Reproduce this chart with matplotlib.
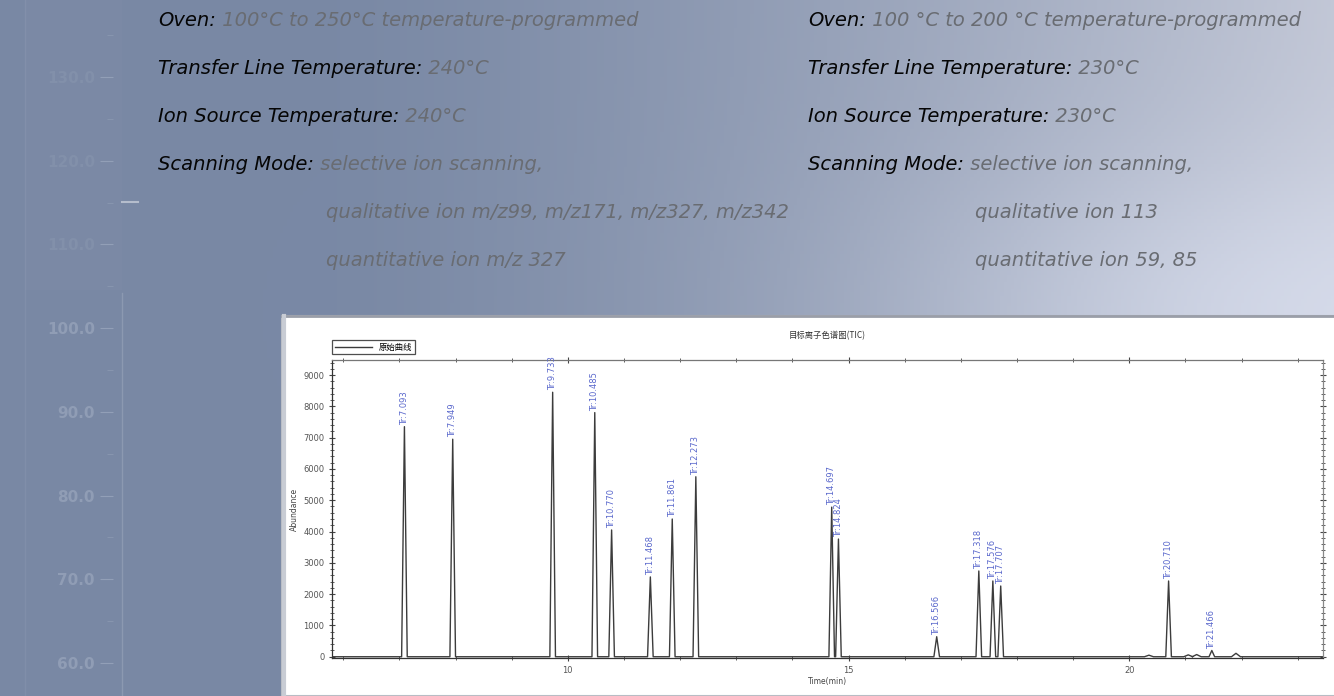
import numpy as np
import matplotlib.pyplot as plt
from matplotlib.patches import Rectangle
from matplotlib.lines import Line2D
from matplotlib.ticker import MultipleLocator

# chromatogram peaks
peak_times = [7.09, 7.95, 9.73, 10.48, 10.78, 11.47, 11.86, 12.28, 14.70, 14.82,
              16.57, 17.32, 17.57, 17.71, 20.70, 21.47]
peak_heights = [7350, 6950, 8450, 7800, 4050, 2550, 4400, 5750, 4780, 3760,
                640, 2740, 2420, 2260, 2420, 200]
peak_labels = ['Tr:7.093', 'Tr:7.949', 'Tr:9.733', 'Tr:10.485', 'Tr:10.770',
               'Tr:11.468', 'Tr:11.861', 'Tr:12.273', 'Tr:14.697', 'Tr:14.824',
               'Tr:16.566', 'Tr:17.318', 'Tr:17.576', 'Tr:17.707', 'Tr:20.710',
               'Tr:21.466']
bump_times = [20.35, 21.05, 21.20, 21.90]
bump_heights = [50, 60, 70, 110]

# background scale on the left
left_ticks = [60.0, 70.0, 80.0, 90.0, 100.0, 110.0, 120.0, 130.0]

# method text
left_lines = [('Oven:', ' 100°C to 250°C temperature-programmed'),
              ('Transfer Line Temperature:', ' 240°C'),
              ('Ion Source Temperature:', ' 240°C'),
              ('Scanning Mode:', ' selective ion scanning,')]
left_extra = ['qualitative ion m/z99, m/z171, m/z327, m/z342',
              'quantitative ion m/z 327']
right_lines = [('Oven:', ' 100 °C to 200 °C temperature-programmed'),
               ('Transfer Line Temperature:', ' 230°C'),
               ('Ion Source Temperature:', ' 230°C'),
               ('Scanning Mode:', ' selective ion scanning,')]
right_extra = ['qualitative ion 113', 'quantitative ion 59, 85']

W, H = 1334, 696
fig = plt.figure(figsize=(W / 100, H / 100), dpi=100)

# gradient background
bg = fig.add_axes([0, 0, 1, 1])
bg.set_xlim(0, 1)
bg.set_ylim(0, 1)
bg.axis('off')
u = np.linspace(0, 1, 400)[None, :]
v = np.linspace(1, 0, 200)[:, None]
c0 = np.array([0.478, 0.537, 0.647])
c1 = np.array([0.76, 0.78, 0.84])
t = np.clip((u - 0.25) / 0.75, 0, 1) ** 1.3
glow = np.exp(-((u - 1.0) ** 2) / 0.08 - ((v - 0.55) ** 2) / 0.05) * 0.6
mix = np.clip(t + glow * (1 - t), 0, 1)
img = c0[None, None, :] + (c1 - c0)[None, None, :] * mix[..., None]
img = img + glow[..., None] * 0.12
bg.imshow(np.clip(img, 0, 1), extent=[0, 1, 0, 1], aspect='auto', zorder=0)
bg.add_patch(Rectangle((25 / W, 1 - 290 / H), 97 / W, 290 / H,
                       facecolor='white', alpha=0.015, edgecolor='none'))
bg.add_line(Line2D([25 / W, 25 / W], [0, 1], color='white', alpha=0.06, lw=1))
bg.add_line(Line2D([122 / W, 122 / W], [0, 1 - 293 / H], color='white',
                   alpha=0.15, lw=1))
bg.add_line(Line2D([122 / W, 138 / W], [1 - 202 / H, 1 - 202 / H],
                   color='white', alpha=0.45, lw=1.5))

# faint scale on the left
axl = fig.add_axes([113 / W, 0, 0.001, 1])
axl.patch.set_alpha(0)
axl.set_ylim(56.06, 139.2)
for s in axl.spines.values():
    s.set_visible(False)
axl.set_xticks([])
axl.set_yticks(left_ticks)
axl.set_yticklabels([f'{x:.1f}' for x in left_ticks])
axl.yaxis.set_minor_locator(MultipleLocator(5))
axl.tick_params(axis='y', which='major', length=9.5, width=0.8, pad=3.5,
                color='#929fb7', labelcolor='#909db5', labelsize=11)
axl.tick_params(axis='y', which='minor', length=4, width=0.8, color='#8795ae')
for lab, val in zip(axl.get_yticklabels(), left_ticks):
    lab.set_fontweight('bold')
    if val > 105:
        lab.set_color('#8290aa')

# method text
font = {'family': 'DejaVu Sans', 'style': 'oblique', 'size': 14}
row_y = [20, 68, 116, 164, 212, 260]


def write_block(x0, x1, lines, extra):
    for (key, val), y in zip(lines, row_y):
        t1 = fig.text(x0 / W, 1 - y / H, key, color='#050505', va='center',
                      **font)
        plt.annotate(val, xy=(1, 0), xycoords=t1, va='bottom', ha='left',
                     color='#696c72', **font)
    for val, y in zip(extra, row_y[4:]):
        fig.text(x1 / W, 1 - y / H, val, color='#696c72', va='center', **font)


write_block(158, 326, left_lines, left_extra)
write_block(808, 975, right_lines, right_extra)

# white inset panel
bg.add_patch(Rectangle((282 / W, 0), 1060 / W, 380 / H, facecolor='white',
                       edgecolor='#b8bcc4', lw=1.5, zorder=2))
bg.add_line(Line2D([282 / W, 1], [1 - 316 / H, 1 - 316 / H], color='#9a9ea8',
                   lw=2, zorder=3))
bg.add_line(Line2D([284 / W, 284 / W], [0, 1 - 316 / H], color='#c8ccd4',
                   lw=3, zorder=3))

# chromatogram
ax = fig.add_axes([332 / W, (H - 658) / H, 991 / W, 298 / H])
ax.set_xlim(5.8, 23.45)
ax.set_ylim(-40, 9480)

w = 0.05
pts = [(5.8, 0.0)]
for tm, hg in sorted(zip(peak_times + bump_times, peak_heights + bump_heights)):
    ww = w if hg > 150 else 0.08
    pts += [(tm - ww, 0.0), (tm, hg), (tm + ww, 0.0)]
pts.append((23.45, 0.0))
xs, ys = zip(*pts)
ax.plot(xs, ys, color='#3c3c3c', lw=1.0, label='原始曲线')

for tm, hg, lab in zip(peak_times, peak_heights, peak_labels):
    ax.text(tm, hg + 60, lab, rotation=90, ha='center', va='bottom',
            fontsize=6, color='#5a68cc')

ax.xaxis.set_major_locator(MultipleLocator(5))
ax.xaxis.set_minor_locator(MultipleLocator(1))
ax.yaxis.set_major_locator(MultipleLocator(1000))
ax.yaxis.set_minor_locator(MultipleLocator(200))
ax.tick_params(which='both', top=True, right=True, direction='inout',
               labelsize=6, labelcolor='#555555', color='#444444')
ax.tick_params(which='major', length=4, width=0.8)
ax.tick_params(which='minor', length=2.5, width=0.6)
for s in ax.spines.values():
    s.set_color('#333333')
    s.set_linewidth(0.9)
ax.spines['top'].set_color('#777777')
ax.spines['right'].set_color('#888888')

ax.set_title('目标离子色谱图(TIC)', fontsize=6, pad=16,
             family=['Noto Sans CJK SC', 'DejaVu Sans'], color='#333333')
ax.set_xlabel('Time(min)', fontsize=5.5, color='#444444', labelpad=2)
ax.set_ylabel('Abundance', fontsize=5.5, color='#444444', labelpad=3)
leg = ax.legend(loc='lower left', bbox_to_anchor=(0.0, 1.02),
                handlelength=4.5, fancybox=False, edgecolor='#222222',
                borderpad=0.3, borderaxespad=0,
                prop={'family': ['Noto Sans CJK SC', 'DejaVu Sans'], 'size': 6})
leg.get_frame().set_linewidth(0.9)

fig.savefig('out.png', dpi=100)
